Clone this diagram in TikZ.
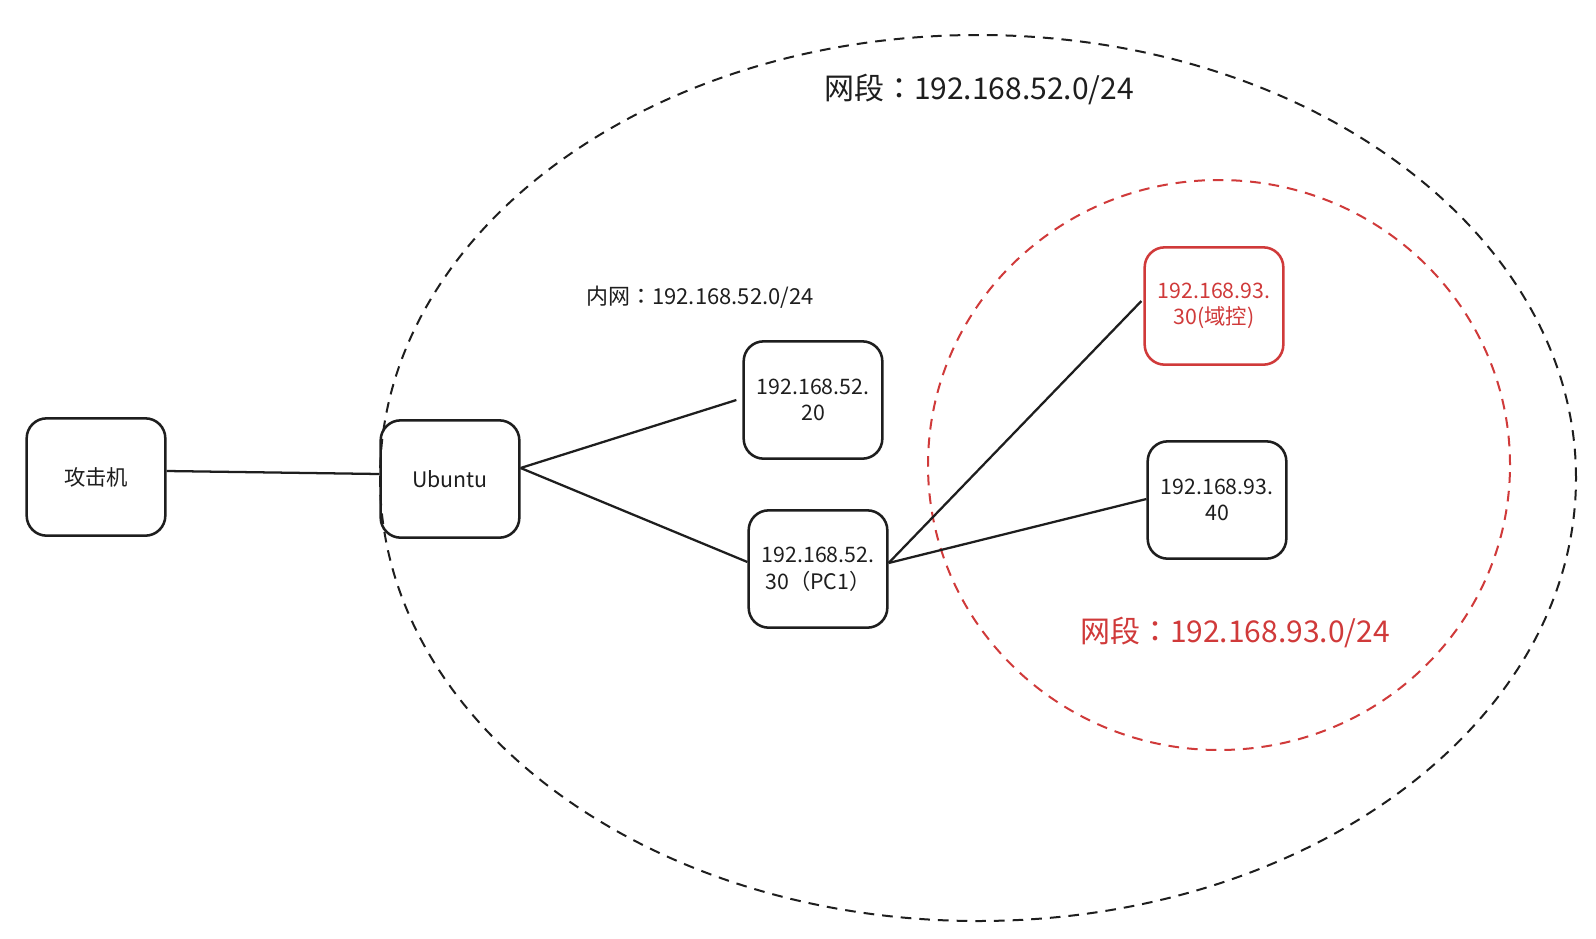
\documentclass[tikz,border=0pt]{standalone}
\usepackage{fontspec}
\setmainfont{Noto Sans CJK SC}
\newfontfamily\tcfont{Noto Sans CJK TC}
\newcommand{\zcolon}{{\tcfont ：}}
\usetikzlibrary{calc}
\definecolor{myred}{RGB}{208,58,58}
\definecolor{ink}{RGB}{30,30,30}
\tikzset{
  hostbox/.style={draw=ink, line width=1.9pt, rounded corners=15pt, minimum width=104pt, minimum height=88pt, inner sep=0pt, align=center, font=\fontsize{16}{20}\selectfont, text=ink},
  redbox/.style={hostbox, draw=myred, text=myred},
  link/.style={draw=ink, line width=1.7pt},
  zone/.style={draw=ink, line width=1.5pt, dash pattern=on 8pt off 6pt},
  redzone/.style={draw=myred, line width=1.5pt, dash pattern=on 8pt off 6pt},
  biglabel/.style={font=\fontsize{22.5}{26}\selectfont, text=ink, inner sep=0pt},
  smalllabel/.style={font=\fontsize{16.5}{19}\selectfont, text=ink, inner sep=0pt}
}
\begin{document}
\begin{tikzpicture}[x=0.75pt, y=-0.75pt]
\useasboundingbox (0,0) rectangle (1596,939);
\fill[white] (0,0) rectangle (1596,939);
% zones
\draw[zone] (978,478) ellipse [x radius=448.5pt, y radius=332.25pt];
\draw[redzone] (1219,465) ellipse [x radius=218.25pt, y radius=213.75pt];
% labels
\node[biglabel] (lbl52) at (979,89) {网段\zcolon 192.168.52.0/24};
\node[smalllabel] (lblin) at (700,297) {内网\zcolon 192.168.52.0/24};
\node[biglabel, text=myred] (lbl93) at (1235,632) {网段\zcolon 192.168.93.0/24};
% hosts
\node[hostbox] (atk) at (96,477) {攻击机};
\node[hostbox] (ubu) at (450,479) {Ubuntu};
\node[hostbox] (h20) at (813,400) {192.168.52.\\20};
\node[hostbox] (pc1) at (818,569) {192.168.52.\\30（PC1）};
\node[redbox] (dc) at (1214,306) {192.168.93.\\30(域控)};
\node[hostbox] (h40) at (1217,500) {192.168.93.\\40};
% links
\draw[link] ($(atk.east)+(0,-6)$) -- ($(ubu.west)+(0,-5)$);
\draw[link] ($(ubu.east)+(0,-11)$) -- ($(h20.west)+(-6,0)$);
\draw[link] ($(ubu.east)+(0,-11)$) -- ($(pc1.west)+(0,-7)$);
\draw[link] ($(pc1.east)+(0,-6)$) -- ($(dc.west)+(-2,-5)$);
\draw[link] ($(pc1.east)+(0,-6)$) -- ($(h40.west)+(0,-1)$);
\end{tikzpicture}
\end{document}
